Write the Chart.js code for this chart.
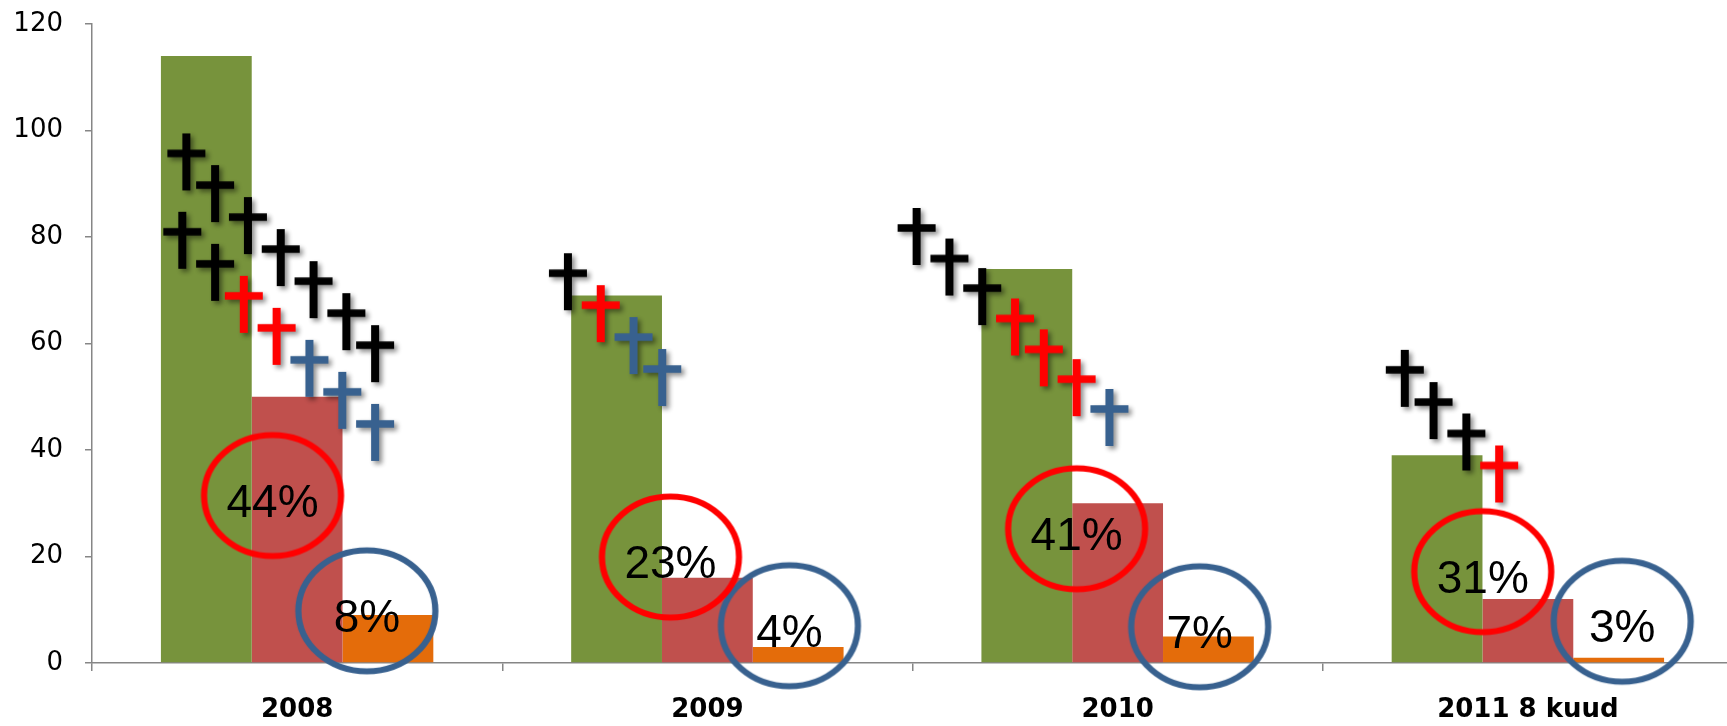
<!DOCTYPE html>
<html>
<head>
<meta charset="utf-8">
<script src="https://cdn.jsdelivr.net/npm/chart.js@4.4.1/dist/chart.umd.min.js"></script>
<style>
    html, body { margin: 0; padding: 0; background: #fff; overflow: hidden; }
    #wrap { position: relative; width: 1738px; height: 726px; }
</style>
</head>
<body>
<div id="wrap"><canvas id="chart"></canvas></div>
<script>
const categories = ["2008", "2009", "2010", "2011 8 kuud"];
const greenValues = [114, 69, 74, 39];
const redValues = [50, 16, 30, 12];
const orangeValues = [9, 3, 5, 1];
const redShare = ["44%", "23%", "41%", "31%"];
const orangeShare = ["8%", "4%", "7%", "3%"];
const yTicks = [0, 20, 40, 60, 80, 100, 120];

// rings around the shares: [category position, value]
const redRings = [[-0.06, 31.45], [0.91, 19.9], [1.90, 25.2], [2.89, 17.15]];
const blueRings = [[0.17, 9.8], [1.20, 7.0], [2.20, 6.8], [3.23, 7.85]];

// crosses: [category position, value]
const blackCrosses = [
    [-0.27, 95.7], [-0.20, 89.75], [-0.12, 83.74], [-0.04, 77.73], [0.04, 71.71], [0.12, 65.7], [0.19, 59.69],
    [-0.28, 80.98], [-0.20, 74.96],
    [0.66, 73.2],
    [1.51, 81.7], [1.59, 75.96], [1.67, 70.4],
    [2.70, 55.05], [2.77, 49.0], [2.85, 43.1]
];
const redCrosses = [
    [-0.13, 68.95], [-0.05, 62.94],
    [0.74, 67.2],
    [1.75, 64.7], [1.82, 58.9], [1.90, 53.3],
    [2.93, 37.1]
];
const blueCrosses = [
    [0.03, 56.93], [0.11, 50.92], [0.19, 44.9],
    [0.82, 61.2], [0.89, 55.2],
    [1.98, 47.7]
];

function makeCross(color) {
    const c = document.createElement("canvas");
    c.width = 60;
    c.height = 96;
    const g = c.getContext("2d");
    g.shadowColor = "rgba(0,0,0,0.45)";
    g.shadowBlur = 5;
    g.shadowOffsetX = 3;
    g.shadowOffsetY = 3;
    g.fillStyle = color;
    g.beginPath();
    g.rect(26, 28, 8, 57);
    g.rect(11, 44.3, 38, 7.4);
    g.fill();
    return c;
}

function makeRing(color) {
    const c = document.createElement("canvas");
    c.width = 150;
    c.height = 134;
    const g = c.getContext("2d");
    g.strokeStyle = color;
    g.lineWidth = 6.2;
    g.beginPath();
    g.ellipse(75, 67, 68.5, 60.5, 0, 0, Math.PI * 2);
    g.stroke();
    return c;
}

// fractional category positions, so the marks skip parsing
const toPoints = arr => arr.map(([x, y]) => ({ x: x, y: y }));

const shareLabels = {
    id: "shareLabels",
    afterDatasetsDraw(chart) {
        const ctx = chart.ctx;
        ctx.save();
        ctx.font = '46px "Liberation Sans", Arial, sans-serif';
        ctx.fillStyle = "#000";
        ctx.textAlign = "center";
        ctx.textBaseline = "alphabetic";
        chart.data.datasets.forEach((ds, i) => {
            if (!ds.shareText) return;
            chart.getDatasetMeta(i).data.forEach((pt, j) => {
                ctx.fillText(ds.shareText[j], pt.x, pt.y + 21);
            });
        });
        ctx.restore();
    }
};

const blue = "#38618F";
const barOpts = { categoryPercentage: 0.664, barPercentage: 1, order: 3 };
const markOpts = { type: "scatter", parsing: false, clip: false };

new Chart(document.getElementById("chart"), {
    type: "bar",
    data: {
        labels: categories,
        datasets: [
            { label: "Kokku", data: greenValues, backgroundColor: "#77933C", ...barOpts },
            { label: "Punane", data: redValues, backgroundColor: "#C0504D", ...barOpts },
            { label: "Oranž", data: orangeValues, backgroundColor: "#E46C0A", ...barOpts },
            { ...markOpts, data: toPoints(blackCrosses), pointStyle: makeCross("#000000"), order: 2 },
            { ...markOpts, data: toPoints(redCrosses), pointStyle: makeCross("#FF0000"), order: 2 },
            { ...markOpts, data: toPoints(blueCrosses), pointStyle: makeCross(blue), order: 2 },
            { ...markOpts, data: toPoints(redRings), pointStyle: makeRing("#FF0000"), order: 1, shareText: redShare },
            { ...markOpts, data: toPoints(blueRings), pointStyle: makeRing(blue), order: 1, shareText: orangeShare }
        ]
    },
    options: {
        responsive: true,
        maintainAspectRatio: false,
        animation: false,
        events: [],
        layout: { padding: { top: 24, left: 13, right: 0, bottom: 0 } },
        plugins: { legend: { display: false }, tooltip: { enabled: false } },
        scales: {
            x: {
                type: "category",
                grid: { drawOnChartArea: false, color: "#868686", lineWidth: 1.5, tickLength: 8 },
                border: { color: "#868686", width: 1.5 },
                ticks: { color: "#000", padding: 24, font: { family: "DejaVu Sans", size: 26, weight: "bold" } },
                afterFit: scale => { scale.height = 63; }
            },
            y: {
                min: yTicks[0],
                max: yTicks[yTicks.length - 1],
                afterBuildTicks: scale => { scale.ticks = yTicks.map(v => ({ value: v })); },
                grid: { drawOnChartArea: false, color: "#868686", lineWidth: 1.5, tickLength: 7 },
                border: { color: "#868686", width: 1.5 },
                ticks: { color: "#000", padding: 22, font: { family: "DejaVu Sans", size: 26 } },
                afterFit: scale => {
                    scale.width = 79;
                    scale.paddingTop = 0;
                    scale.paddingBottom = 0;
                }
            }
        }
    },
    plugins: [shareLabels]
});
</script>
</body>
</html>
